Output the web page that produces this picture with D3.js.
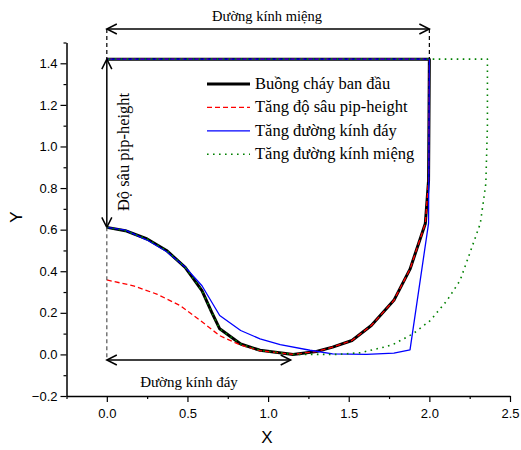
<!DOCTYPE html>
<html>
<head>
<meta charset="utf-8">
<script src="https://d3js.org/d3.v7.min.js"></script>
<style>
    body { margin: 0; background: #fff; }
    .tick text { font-family: "Liberation Sans", Arial, sans-serif; font-size: 13px; fill: #000; }
    .serif { font-family: "Liberation Serif", "Times New Roman", serif; fill: #000; }
</style>
</head>
<body>
<svg width="521" height="450"></svg>
<script>
    // series: [x, y]
    const baseCurve = [[0, 0.611], [0.115, 0.595], [0.25, 0.555], [0.37, 0.50], [0.486, 0.419], [0.59, 0.307],
        [0.65, 0.203], [0.70, 0.123], [0.83, 0.05], [0.95, 0.02], [1.155, 0.0], [1.30, 0.014], [1.40, 0.035],
        [1.52, 0.067], [1.64, 0.139], [1.78, 0.26], [1.88, 0.41], [1.975, 0.63], [1.995, 0.837], [2.0, 1.42], [0, 1.42]];
    const depthCurve = [[0, 0.358], [0.165, 0.33], [0.31, 0.29], [0.455, 0.235], [0.58, 0.163], [0.70, 0.09],
        [0.83, 0.045], [0.95, 0.018], [1.155, 0.0], [1.30, 0.014], [1.40, 0.035], [1.52, 0.067], [1.64, 0.139],
        [1.78, 0.26], [1.88, 0.41], [1.975, 0.63], [1.995, 0.837], [2.0, 1.42], [0, 1.42]];
    const bottomCurve = [[0, 0.611], [0.115, 0.598], [0.25, 0.55], [0.37, 0.495], [0.486, 0.42], [0.59, 0.33],
        [0.70, 0.187], [0.83, 0.115], [0.95, 0.075], [1.075, 0.047], [1.26, 0.02], [1.40, 0.003], [1.61, 0.0],
        [1.78, 0.006], [1.88, 0.022], [1.995, 0.63], [2.0, 1.42], [0, 1.42]];
    const mouthCurve = [[0, 0.611], [0.115, 0.595], [0.25, 0.555], [0.37, 0.50], [0.486, 0.419], [0.59, 0.307],
        [0.65, 0.203], [0.70, 0.123], [0.83, 0.05], [0.95, 0.02], [1.155, 0.0], [1.30, 0.0], [1.43, 0.0],
        [1.57, 0.008], [1.72, 0.035], [1.78, 0.05], [1.90, 0.10], [2.006, 0.163], [2.11, 0.26], [2.19, 0.355],
        [2.25, 0.485], [2.316, 0.63], [2.35, 0.82], [2.36, 1.1], [2.36, 1.42], [0, 1.42]];

    const seriesNames = ["Buồng cháy ban đầu", "Tăng độ sâu pip-height", "Tăng đường kính đáy", "Tăng đường kính miệng"];
    const xTicks = [0, 0.5, 1.0, 1.5, 2.0, 2.5];
    const xMinor = [-0.25, 0.25, 0.75, 1.25, 1.75, 2.25];
    const yTicks = [-0.2, 0, 0.2, 0.4, 0.6, 0.8, 1.0, 1.2, 1.4];
    const yMinor = [-0.1, 0.1, 0.3, 0.5, 0.7, 0.9, 1.1, 1.3, 1.5];

    // annotation anchors in data units
    const mouthArrowY = 1.565, topY = 1.42, floorArrowY = -0.027, floorArrowEnd = 1.14, pipTop = 1.42, pipBottom = 0.611;

    const svg = d3.select("svg");
    const x = d3.scaleLinear().domain([-0.25, 2.5]).range([66.5, 510]);
    const y = d3.scaleLinear().domain([-0.2, 1.5]).range([396, 42.5]);

    const defs = svg.append("defs");
    defs.append("marker")
        .attr("id", "arr")
        .attr("viewBox", "-12 -7 14 14")
        .attr("refX", 0).attr("refY", 0)
        .attr("markerWidth", 14).attr("markerHeight", 14)
        .attr("markerUnits", "userSpaceOnUse")
        .attr("orient", "auto-start-reverse")
        .append("path")
        .attr("d", "M-10,-5L0,0L-10,5")
        .attr("fill", "none").attr("stroke", "#000").attr("stroke-width", 1.5);

    // axes
    const xAxis = svg.append("g").attr("transform", "translate(0,396)")
        .call(d3.axisBottom(x).tickValues(xTicks).tickFormat(d3.format(".1f")).tickSize(6).tickSizeOuter(0));
    svg.append("g").attr("transform", "translate(0,396)")
        .call(d3.axisBottom(x).tickValues(xMinor).tickFormat("").tickSize(3).tickSizeOuter(0))
        .select(".domain").remove();
    xAxis.selectAll("text").attr("dy", "1.0em");

    svg.append("g").attr("transform", "translate(66.5,0)")
        .call(d3.axisLeft(y).tickValues(yTicks).tickFormat(d3.format(".1f")).tickSize(6).tickSizeOuter(0));
    svg.append("g").attr("transform", "translate(66.5,0)")
        .call(d3.axisLeft(y).tickValues(yMinor).tickFormat("").tickSize(3).tickSizeOuter(0))
        .select(".domain").remove();
    svg.selectAll(".domain").attr("stroke-width", 1.5);
    svg.selectAll(".tick line").attr("stroke-width", 1.2);

    svg.append("text").attr("x", 267).attr("y", 443).attr("text-anchor", "middle")
        .style("font-family", "Liberation Sans, Arial, sans-serif").style("font-size", "17px").text("X");
    svg.append("text").attr("transform", "translate(22,217) rotate(-90)").attr("text-anchor", "middle")
        .style("font-family", "Liberation Sans, Arial, sans-serif").style("font-size", "17px").text("Y");

    // series
    const line = d3.line().x(d => x(d[0])).y(d => y(d[1]));
    const styles = [
        {data: baseCurve, color: "#000", width: 3, dash: null},
        {data: depthCurve, color: "#ff0000", width: 1.3, dash: "5,3"},
        {data: bottomCurve, color: "#0000ff", width: 1.3, dash: null},
        {data: mouthCurve, color: "#008000", width: 1.6, dash: "1.6,4.4"}
    ];
    styles.forEach(s => {
        svg.append("path").datum(s.data)
            .attr("d", line)
            .attr("fill", "none")
            .attr("stroke", s.color)
            .attr("stroke-width", s.width)
            .attr("stroke-dasharray", s.dash)
            .attr("stroke-linejoin", "round");
    });

    // annotations
    svg.append("line")
        .attr("x1", x(0)).attr("x2", x(2.0)).attr("y1", y(mouthArrowY)).attr("y2", y(mouthArrowY))
        .attr("stroke", "#000").attr("stroke-width", 1.5)
        .attr("marker-start", "url(#arr)").attr("marker-end", "url(#arr)");
    [0, 2.0].forEach(v => {
        svg.append("line")
            .attr("x1", x(v)).attr("x2", x(v)).attr("y1", y(mouthArrowY)).attr("y2", y(topY))
            .attr("stroke", "#000").attr("stroke-width", 1.2).attr("stroke-dasharray", "4,3");
    });
    svg.append("text").attr("class", "serif").attr("x", 267).attr("y", 21)
        .attr("text-anchor", "middle").style("font-size", "14.5px").text("Đường kính miệng");

    svg.append("line")
        .attr("x1", x(0)).attr("x2", x(0)).attr("y1", y(pipTop)).attr("y2", y(pipBottom))
        .attr("stroke", "#000").attr("stroke-width", 1.5)
        .attr("marker-start", "url(#arr)").attr("marker-end", "url(#arr)");
    svg.append("text").attr("class", "serif")
        .attr("transform", `translate(${x(0) + 22},152) rotate(-90)`)
        .attr("text-anchor", "middle").style("font-size", "16.5px").text("Độ sâu pip-height");

    svg.append("line")
        .attr("x1", x(0)).attr("x2", x(0)).attr("y1", y(pipBottom)).attr("y2", y(floorArrowY))
        .attr("stroke", "#555").attr("stroke-width", 1.2).attr("stroke-dasharray", "4,3");
    svg.append("line")
        .attr("x1", x(0)).attr("x2", x(floorArrowEnd)).attr("y1", y(floorArrowY)).attr("y2", y(floorArrowY))
        .attr("stroke", "#000").attr("stroke-width", 1.5)
        .attr("marker-start", "url(#arr)").attr("marker-end", "url(#arr)");
    svg.append("text").attr("class", "serif").attr("x", 189).attr("y", 387)
        .attr("text-anchor", "middle").style("font-size", "15px").text("Đường kính đáy");

    // legend
    const legend = svg.append("g").attr("transform", "translate(207,84)");
    styles.forEach((s, i) => {
        const row = legend.append("g").attr("transform", `translate(0,${i * 23.4})`);
        row.append("line").attr("x1", 0).attr("x2", 43).attr("y1", 0).attr("y2", 0)
            .attr("stroke", s.color).attr("stroke-width", s.width).attr("stroke-dasharray", s.dash);
        row.append("text").attr("class", "serif").attr("x", 48).attr("y", 5)
            .style("font-size", "16.5px").text(seriesNames[i]);
    });
</script>
</body>
</html>
